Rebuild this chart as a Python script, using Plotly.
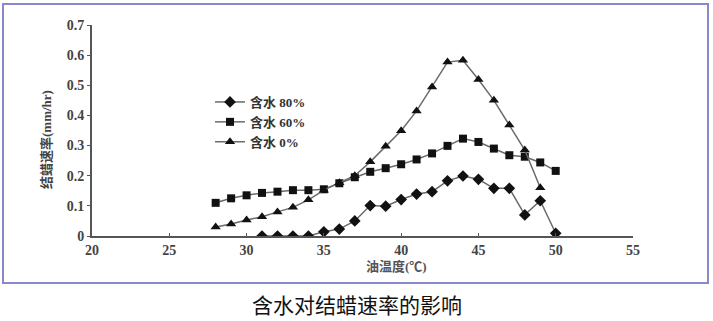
import plotly.graph_objects as go

# ---- data ----
temp_80 = list(range(31, 51))
rate_80 = [0.0, 0.0, 0.0, 0.0, 0.014, 0.023, 0.05, 0.101, 0.099, 0.121, 0.139, 0.147,
           0.183, 0.199, 0.188, 0.158, 0.158, 0.07, 0.117, 0.009]

temp_60 = list(range(28, 51))
rate_60 = [0.11, 0.125, 0.135, 0.143, 0.147, 0.152, 0.152, 0.155, 0.175, 0.195, 0.213,
           0.225, 0.238, 0.254, 0.274, 0.299, 0.323, 0.312, 0.29, 0.268, 0.263, 0.244, 0.216]

temp_0 = list(range(28, 50))
rate_0 = [0.03, 0.04, 0.053, 0.064, 0.08, 0.095, 0.12, 0.152, 0.177, 0.2, 0.246,
          0.298, 0.349, 0.415, 0.494, 0.577, 0.583, 0.519, 0.45, 0.368, 0.285, 0.16]

series_names = ["含水 80%", "含水 60%", "含水 0%"]
x_ticks = [20, 25, 30, 35, 40, 45, 50, 55]
y_ticks = [0, 0.1, 0.2, 0.3, 0.4, 0.5, 0.6, 0.7]
y_tick_text = ["0", "0.1", "0.2", "0.3", "0.4", "0.5", "0.6", "0.7"]
x_title = "油温度(℃)"
y_title = "结蜡速率(mm/hr)"
caption = "含水对结蜡速率的影响"

# ---- layout geometry (pixels) ----
W, H = 713, 321
L, R, T, B = 92, 633, 25, 236


def px(x):
    return (x - L) / (R - L)


def py(y):
    return (B - y) / (B - T)


serif = "Liberation Serif, Noto Sans CJK SC, serif"
line_col = "#6a6a6a"

fig = go.Figure()
for xs, ys, name, sym, sz in [
    (temp_80, rate_80, series_names[0], "diamond", 9),
    (temp_60, rate_60, series_names[1], "square", 8),
    (temp_0, rate_0, series_names[2], "triangle-up", 9),
]:
    fig.add_trace(go.Scatter(
        x=xs, y=ys, name=name, mode="lines+markers",
        line=dict(color=line_col, width=1.5),
        marker=dict(symbol=sym, size=sz, color="#111111"),
    ))

fig.update_layout(
    width=W, height=H, autosize=False,
    margin=dict(l=L, r=W - R, t=T, b=H - B),
    paper_bgcolor="white", plot_bgcolor="white",
    showlegend=True,
    legend=dict(
        x=px(210), y=py(87), xanchor="left", yanchor="top",
        font=dict(family=serif, size=13, color="#333333", weight="bold"),
        bgcolor="rgba(0,0,0,0)", tracegroupgap=0,
    ),
    font=dict(family=serif, color="#333333"),
)

fig.update_xaxes(
    range=[20, 55], tickvals=x_ticks, ticktext=[str(v) for v in x_ticks],
    showgrid=False, zeroline=False, showline=True, linecolor="#555555", linewidth=2,
    ticks="inside", ticklen=3, tickcolor="#555555",
    tickfont=dict(family=serif, size=14, color="#444444", weight="bold"),
)
fig.update_yaxes(
    range=[0, 0.7], tickvals=y_ticks, ticktext=y_tick_text,
    showgrid=False, zeroline=False, showline=True, linecolor="#555555", linewidth=2,
    ticks="outside", ticklen=3, tickcolor="#555555",
    tickfont=dict(family=serif, size=14, color="#444444", weight="bold"),
)

fig.add_annotation(
    x=px(396), y=py(266), xref="paper", yref="paper", text=x_title, showarrow=False,
    font=dict(family=serif, size=13, color="#555555", weight="bold"),
    xanchor="center", yanchor="middle",
)
fig.add_annotation(
    x=px(46), y=py(140), xref="paper", yref="paper", text=y_title, showarrow=False,
    textangle=-90, font=dict(family=serif, size=13, color="#444444", weight="bold"),
    xanchor="center", yanchor="middle",
)
fig.add_annotation(
    x=px(357), y=py(304), xref="paper", yref="paper", text=caption, showarrow=False,
    font=dict(family="Noto Sans CJK SC, sans-serif", size=21, color="#111111"),
    xanchor="center", yanchor="middle",
)
fig.add_shape(
    type="rect", xref="paper", yref="paper",
    x0=px(3), x1=px(708), y0=py(283), y1=py(4),
    line=dict(color="#8888cc", width=2), fillcolor="rgba(0,0,0,0)", layer="below",
)

fig.write_html("out.html")
